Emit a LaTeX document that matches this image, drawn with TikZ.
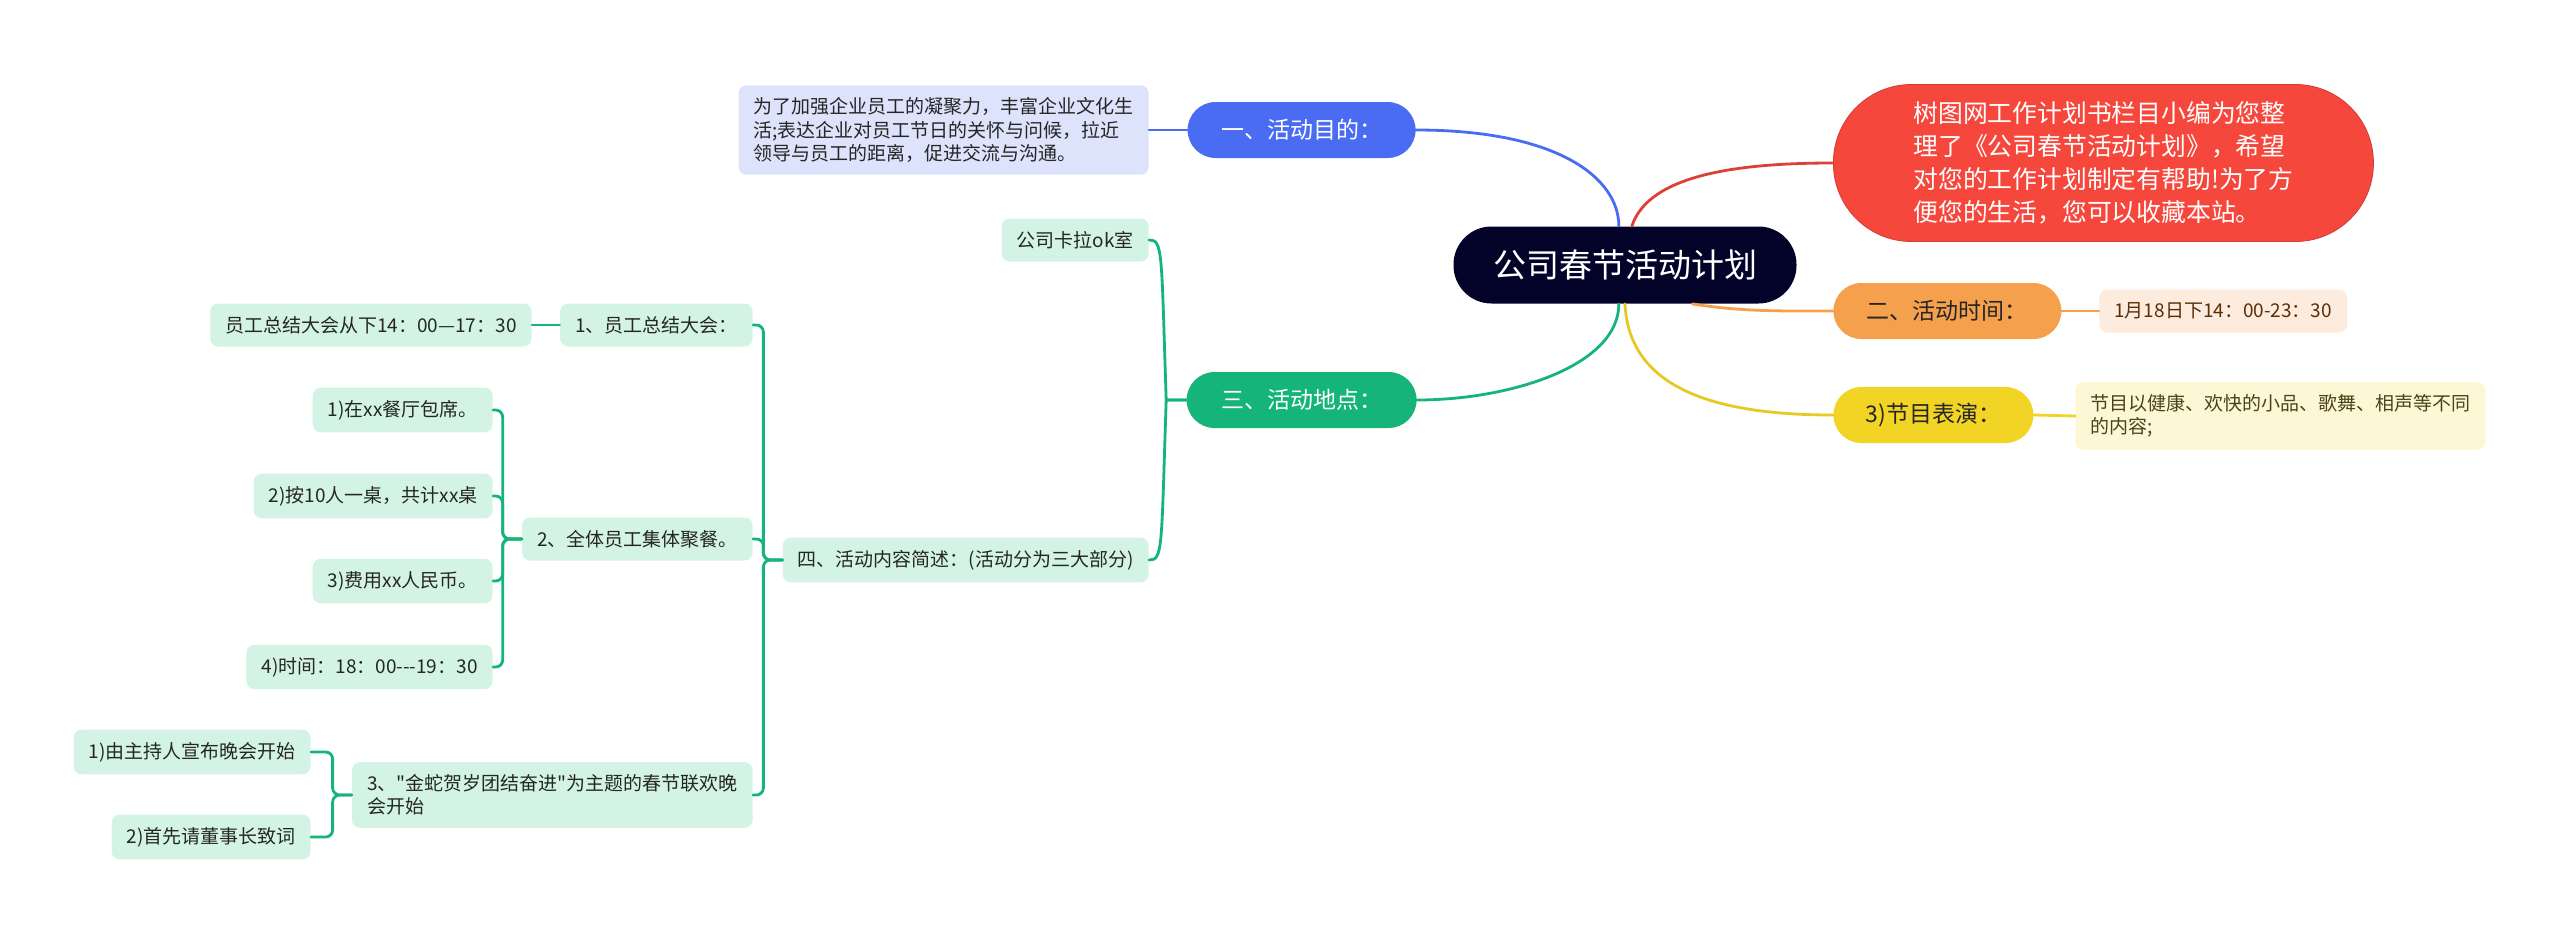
\documentclass[tikz,border=0pt]{standalone}
\usepackage{fontspec}
\setmainfont{Noto Sans CJK SC}[Ligatures=TeXOff]
\usepackage{tikz}
\usetikzlibrary{positioning,calc}
\definecolor{rootnavy}{HTML}{03032A}
\definecolor{mapblue}{HTML}{4A6CF2}
\definecolor{mapred}{HTML}{F6473D}
\definecolor{maporange}{HTML}{F5A04C}
\definecolor{mapyellow}{HTML}{F2D425}
\definecolor{mapgreen}{HTML}{14B47B}
\definecolor{bluepale}{HTML}{DCE3FB}
\definecolor{greenpale}{HTML}{D3F4E5}
\definecolor{orangepale}{HTML}{FDEBDD}
\definecolor{yellowpale}{HTML}{FDF7D6}
\definecolor{leafink}{HTML}{262626}
\definecolor{orangeink}{HTML}{5A2E0A}
\definecolor{yellowink}{HTML}{4A4418}
\newcommand{\leaffont}{\fontsize{9.5}{11.6}\selectfont}
\tikzset{
  root/.style={fill=rootnavy, text=white, rounded corners=19pt, minimum width=171.5pt, minimum height=38.5pt, font=\fontsize{16.5}{20}\selectfont},
  branch/.style={rounded corners=14pt, minimum height=28pt, inner xsep=4pt, font=\fontsize{11.5}{14}\selectfont},
  leaf/.style={rounded corners=4pt, inner xsep=7.5pt, inner ysep=6.2pt, minimum height=21.5pt, align=left, font=\leaffont, text=leafink},
  greenleaf/.style={leaf, fill=greenpale},
  link/.style={line width=1.4pt, line cap=round},
  bracket/.style={link, draw=mapgreen, rounded corners=3.5pt}
}
\begin{document}
\begin{tikzpicture}[x=0.5pt, y=-0.5pt]
  \useasboundingbox[fill=white] (0,0) rectangle (2560,943);
  \node[root] (root) at (1625,265) {公司春节活动计划};
  \node[fill=mapred, draw=mapred!85!black, line width=0.4pt, text=white, rounded corners=39pt, minimum width=270pt, minimum height=78.5pt, align=left, font=\fontsize{12.4}{16.5}\selectfont, anchor=west] (note) at (1833,163) {树图网工作计划书栏目小编为您整\\理了《公司春节活动计划》，希望\\对您的工作计划制定有帮助!为了方\\便您的生活，您可以收藏本站。};
  \node[branch, fill=mapblue, text=white, minimum width=114pt, anchor=east] (goal) at (1416,130) {一、活动目的：};
  \node[leaf, fill=bluepale, anchor=east] (goaltext) at (1149,130) {为了加强企业员工的凝聚力，丰富企业文化生\\活;表达企业对员工节日的关怀与问候，拉近\\领导与员工的距离，促进交流与沟通。};
  \node[branch, fill=maporange, text=leafink, minimum width=114pt, anchor=west] (timeb) at (1833,311) {二、活动时间：};
  \node[leaf, fill=orangepale, text=orangeink, anchor=west] (timetext) at (2099,311) {1月18日下14：00-23：30};
  \node[branch, fill=mapyellow, text=leafink, minimum width=100pt, anchor=west] (show) at (1833,415) {3)节目表演：};
  \node[leaf, fill=yellowpale, text=yellowink, anchor=west] (showtext) at (2075,416) {节目以健康、欢快的小品、歌舞、相声等不同\\的内容;};
  \node[branch, fill=mapgreen, text=white, minimum width=115pt, anchor=east] (place) at (1417,400) {三、活动地点：};
  \node[greenleaf, anchor=east] (karaoke) at (1149,240) {公司卡拉ok室};
  \node[greenleaf, anchor=east] (content) at (1149,560) {四、活动内容简述：(活动分为三大部分)};
  \node[greenleaf, anchor=east] (partA) at (753,325) {1、员工总结大会：};
  \node[greenleaf, anchor=east] (partAa) at (532,325) {员工总结大会从下14：00—17：30};
  \node[greenleaf, anchor=east] (partB) at (753,539) {2、全体员工集体聚餐。};
  \node[greenleaf, anchor=east] (partBa) at (493,410) {1)在xx餐厅包席。};
  \node[greenleaf, anchor=east] (partBb) at (493,496) {2)按10人一桌，共计xx桌};
  \node[greenleaf, anchor=east] (partBc) at (493,581) {3)费用xx人民币。};
  \node[greenleaf, anchor=east] (partBd) at (493,667) {4)时间：18：00---19：30};
  \node[greenleaf, anchor=east] (partC) at (753,795) {3、"金蛇贺岁团结奋进"为主题的春节联欢晚\\会开始};
  \node[greenleaf, anchor=east] (partCa) at (311,752) {1)由主持人宣布晚会开始};
  \node[greenleaf, anchor=east] (partCb) at (311,837) {2)首先请董事长致词};
  \draw[link, draw=mapblue] (root.99) .. controls +(0,-47) and +(144,0) .. (goal.east);
  \draw[link, draw=mapred!90!black] (root.80) .. controls +(17,-52) and +(-93,0) .. (note.west);
  \draw[link, draw=maporange] (root.-30) .. controls +(50,8) and +(-50,0) .. (timeb.west);
  \draw[link, draw=mapyellow!95!black] (root.south) .. controls +(4,87) and +(-113,0) .. (show.west);
  \draw[link, draw=mapgreen] (root.-99) .. controls +(0,62) and +(93,0) .. (place.east);
  \draw[link, draw=mapblue] (goal.west) -- (goaltext.east);
  \draw[link, draw=maporange] (timeb.east) -- (timetext.west);
  \draw[link, draw=mapyellow] (show.east) -- (showtext.west);
  \draw[link, draw=mapgreen] (place.west) -- ++(-20,0) .. controls +(-5,-150) and +(14,0) .. (karaoke.east);
  \draw[link, draw=mapgreen] (place.west) -- ++(-20,0) .. controls +(-5,150) and +(14,0) .. (content.east);
  \foreach \c in {partA,partB,partC} \draw[bracket] (content.west) -- ++(-19,0) |- (\c.east);
  \draw[link, draw=mapgreen] (partA.west) -- (partAa.east);
  \foreach \c in {partBa,partBb,partBc,partBd} \draw[bracket] (partB.west) -- ++(-19,0) |- (\c.east);
  \foreach \c in {partCa,partCb} \draw[bracket] (partC.west) -- ++(-19,0) |- (\c.east);
\end{tikzpicture}
\end{document}
